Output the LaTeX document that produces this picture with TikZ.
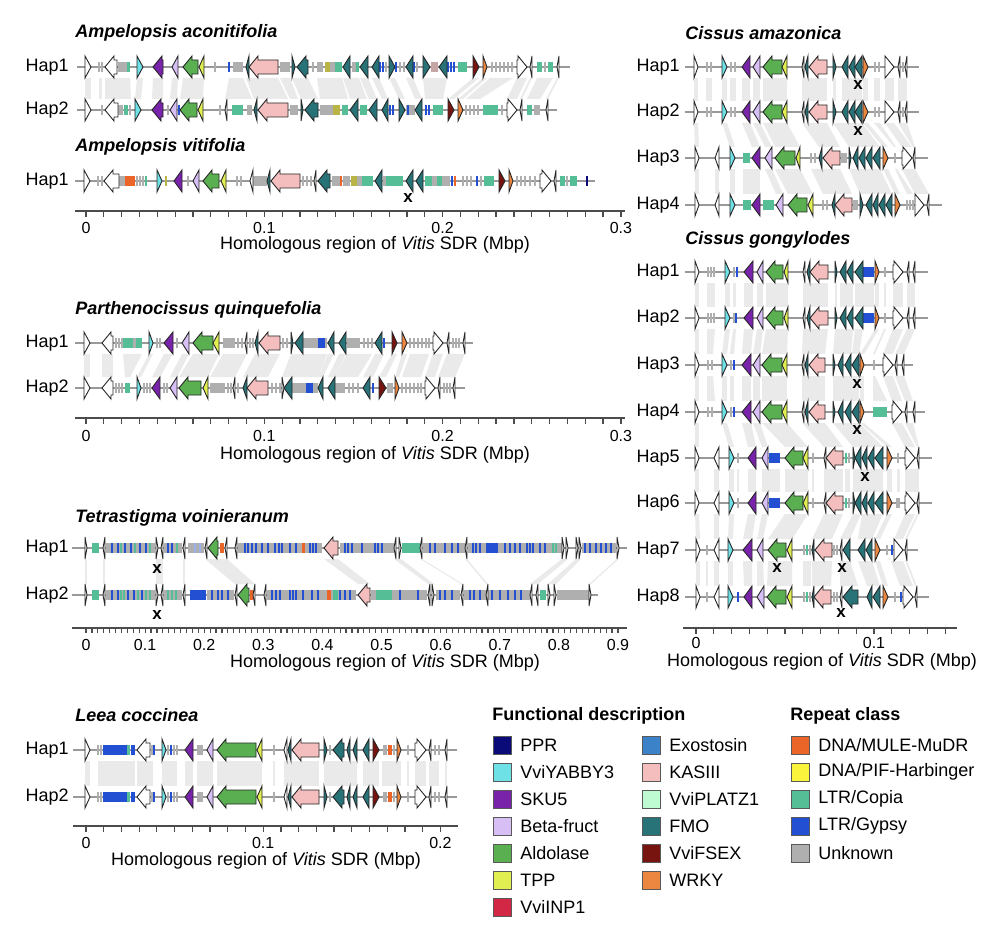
\documentclass[tikz,border=0pt]{standalone}
\usepackage{fontspec}
\setmainfont{Liberation Sans}
\definecolor{cPPR}{RGB}{10,10,120}
\definecolor{cYAB}{RGB}{110,225,230}
\definecolor{cSKU}{RGB}{120,35,170}
\definecolor{cBF}{RGB}{215,190,245}
\definecolor{cALD}{RGB}{90,175,80}
\definecolor{cTPP}{RGB}{225,240,80}
\definecolor{cINP}{RGB}{210,40,70}
\definecolor{cEXO}{RGB}{60,130,200}
\definecolor{cKAS}{RGB}{245,190,190}
\definecolor{cPLA}{RGB}{190,250,210}
\definecolor{cFMO}{RGB}{40,115,120}
\definecolor{cFSEX}{RGB}{120,20,15}
\definecolor{cWRKY}{RGB}{235,135,65}
\definecolor{rMULE}{RGB}{235,100,40}
\definecolor{rPIF}{RGB}{250,245,60}
\definecolor{rCOP}{RGB}{85,190,150}
\definecolor{rGYP}{RGB}{35,80,210}
\definecolor{rUNK}{RGB}{175,175,175}
\definecolor{rOLV}{RGB}{185,180,70}
\definecolor{lkgray}{RGB}{234,234,234}
\tikzset{
 gene/.style={draw=black!85, line width=0.45pt, line join=miter},
 bbl/.style={draw=black!40, line width=0.6pt},
 lkc/.style={fill=lkgray},
 ax/.style={draw=black!70, line width=0.6pt},
 hap/.style={font=\fontsize{9}{10}\selectfont, anchor=east, inner sep=0pt},
 ttl/.style={font=\fontsize{9}{10}\selectfont\bfseries\itshape, anchor=west, inner sep=0pt},
 tick/.style={font=\fontsize{8}{9}\selectfont, inner sep=0pt},
 axt/.style={font=\fontsize{9}{10}\selectfont, inner sep=0pt},
 xm/.style={font=\fontsize{8.5}{9}\selectfont\bfseries, inner sep=0pt},
 lgh/.style={font=\fontsize{9}{10}\selectfont\bfseries, anchor=west, inner sep=0pt},
 lgt/.style={font=\fontsize{9}{10}\selectfont, anchor=west, inner sep=0pt},
 sw/.style={draw=black!65, line width=0.5pt},
}
\newcommand\gR[4]{%
 \pgfmathsetmacro\gHx{max(#1,#2-9)}%
 \filldraw[gene,fill=#4] (#1,#3-7) -- (\gHx,#3-7) -- (\gHx,#3-11) -- (#2,#3) -- (\gHx,#3+11) -- (\gHx,#3+7) -- (#1,#3+7) -- cycle;}
\newcommand\gL[4]{%
 \pgfmathsetmacro\gHx{min(#2,#1+9)}%
 \filldraw[gene,fill=#4] (#2,#3-7) -- (\gHx,#3-7) -- (\gHx,#3-11) -- (#1,#3) -- (\gHx,#3+11) -- (\gHx,#3+7) -- (#2,#3+7) -- cycle;}
\newcommand\rp[4]{\fill[#4] (#1,#3-5) rectangle (#2,#3+5);}
\newcommand\bars[3]{\foreach \bx in {#3}{\fill[#2] (\bx-1,#1-5) rectangle (\bx+1,#1+5);}}
\newcommand\bb[3]{\draw[bbl] (#1,#3) -- (#2,#3);}
\newcommand\lks[3]{\foreach \la/\lb/\lc/\ld in {#3}{\fill[lkc] (\la,#1+11) -- (\lb,#1+11) -- (\ld,#2-11) -- (\lc,#2-11) -- cycle;}}
\newcommand\swatch[5]{\filldraw[sw,fill=#3] (#1-9,#2-9) rectangle (#1+9,#2+9); \node[lgt] (#5) at (#1+18,#2) {#4};}
\newcommand\leeatrack[1]{%
 \bb{73}{457}{#1}
 \bars{#1}{rUNK}{98,101,152,168,174,177,274,330,384,386,394,408,435,439}
 \rp{103}{127}{#1}{rGYP}\rp{127}{130}{#1}{rCOP}\rp{131}{135}{#1}{rGYP}
 \bars{#1}{rGYP}{154,171}
 \rp{197}{203}{#1}{rUNK}\rp{388}{392}{#1}{rMULE}
 \gR{85}{90}{#1}{white}\gL{137}{150}{#1}{white}\gR{162}{166}{#1}{cYAB}
 \gL{185}{193}{#1}{cSKU}\gL{207}{213}{#1}{cBF}\gL{217}{256}{#1}{cALD}\gL{257}{262}{#1}{cTPP}
 \gL{284}{287}{#1}{white}\gL{288}{291}{#1}{cFMO}\gL{292}{319}{#1}{cKAS}\gR{324}{327}{#1}{cFMO}
 \gL{333}{344}{#1}{cFMO}\gL{347}{350}{#1}{cFMO}\gL{353}{357}{#1}{cFMO}\gL{363}{369}{#1}{cFMO}
 \gR{373}{379}{#1}{cFSEX}\gR{397}{401}{#1}{cWRKY}\gR{415}{426}{#1}{white}\gL{429}{431}{#1}{white}\gL{445}{447}{#1}{white}}
\newcommand\cgA[1]{% Cissus gongylodes Hap1/Hap2
 \bb{685}{928}{#1}
 \bars{#1}{rUNK}{708,711,714,734,885}
 \gR{695}{699}{#1}{white}\gR{725}{730}{#1}{cYAB}\gL{744}{753}{#1}{cSKU}\gL{757}{763}{#1}{cBF}
 \gL{766}{783}{#1}{cALD}\gL{784}{788}{#1}{cTPP}\gL{803}{805}{#1}{white}\gL{807}{810}{#1}{cFMO}
 \gL{810}{828}{#1}{cKAS}\gR{835}{837}{#1}{cFMO}\gL{840}{846}{#1}{cFMO}\gL{847}{853}{#1}{cFMO}
 \rp{862}{874}{#1}{rGYP}\gL{855}{863}{#1}{cFMO}\gR{875}{879}{#1}{cWRKY}\gR{893}{903}{#1}{white}
 \gL{907}{909}{#1}{white}\gL{913}{915}{#1}{white}}
\newcommand\cgC[1]{% Cissus gongylodes Hap5/Hap6
 \bb{685}{932}{#1}
 \bars{#1}{rUNK}{738,813,849}
 \bars{#1}{rCOP}{846}
 \gR{695}{699}{#1}{white}\gL{714}{719}{#1}{white}\gR{729}{734}{#1}{cYAB}\gL{748}{756}{#1}{cSKU}
 \gL{762}{768}{#1}{cBF}\rp{769}{780}{#1}{rGYP}\gL{785}{803}{#1}{cALD}\gL{803}{808}{#1}{cTPP}
 \gL{824}{826}{#1}{white}\gL{826}{843}{#1}{cKAS}\gR{853}{855}{#1}{cFMO}\gL{855}{861}{#1}{cFMO}
 \gL{862}{867}{#1}{cFMO}\gL{868}{874}{#1}{cFMO}\gL{875}{883}{#1}{cFMO}\gR{887}{892}{#1}{cWRKY}
 \gR{905}{915}{#1}{white}\gL{917}{919}{#1}{white}}
\begin{document}
\begin{tikzpicture}[x=0.5pt,y=-0.5pt]
\useasboundingbox (0,0) rectangle (1000,935);
\fill[white] (0,0) rectangle (1000,935);
% ================= links =================
\lks{67}{110}{85/91/85/91, 99/102/99/102, 105/130/105/131, 137/143/135/141, 153/163/152/163, 172/178/170/177, 183/204/180/203, 229/243/225/252, 246/278/254/288, 280/290/290/298, 292/308/301/318, 317/342/320/348, 343/359/350/367, 360/368/369/377, 372/379/382/388, 389/395/399/405, 406/413/415/422, 423/447/425/443, 473/479/448/454, 483/487/458/463, 490/513/466/480, 517/527/507/517, 530/532/520/522, 537/553/527/540, 557/559/546/548}
\lks{343}{388}{84/90/84/90, 102/113/102/113, 123/142/125/130, 149/153/137/141, 164/173/152/160, 182/189/170/177, 193/219/179/208, 223/247/210/235, 255/280/243/268, 291/303/282/292, 303/327/292/318, 328/334/318/323, 339/346/328/335, 347/372/335/358, 375/384/363/373, 392/397/379/386, 402/407/395/399, 410/429/402/421, 433/443/425/435, 447/465/438/455}
\lks{548}{595}{85/87/85/87, 103/105/103/105, 156/163/156/163, 183/185/183/185, 205/227/235/255, 324/338/358/370, 394/401/428/434, 420/422/461/463, 465/467/486/488, 562/568/530/538, 576/581/548/556, 617/619/589/591}
\lks{750}{797}{85/90/85/90, 98/135/98/135, 137/153/137/153, 162/177/162/177, 185/193/185/193, 197/213/197/213, 217/262/217/262, 273/275/273/275, 284/319/284/319, 324/357/324/357, 363/379/363/379, 382/401/382/401, 407/409/407/409, 415/426/415/426, 429/439/429/439, 445/447/445/447}
% Cissus amazonica
\lks{67}{112}{694/698/694/698, 706/712/706/712, 722/727/722/727, 730/736/730/736, 742/750/742/750, 753/760/753/760, 763/787/763/787, 802/827/802/827, 833/836/833/836, 842/862/842/862, 863/868/863/868, 874/880/874/880, 885/894/885/894, 898/907/898/907}
\lks{112}{158}{694/698/695/699, 722/727/730/735, 742/750/752/760, 753/760/765/772, 763/787/775/800, 802/827/819/840, 833/862/849/880, 863/868/883/888, 874/880/894/896, 885/894/902/912, 898/907/913/915}
\lks{158}{205}{695/699/695/699, 715/719/715/719, 730/735/730/735, 743/760/743/760, 765/772/776/783, 775/800/788/813, 811/840/823/852, 849/880/860/892, 883/888/895/900, 895/897/907/913, 902/915/915/929}
% Cissus gongylodes
\lks{272}{318}{695/699/695/699, 707/715/707/715, 725/730/725/730, 733/736/733/736, 744/753/744/753, 757/763/757/763, 766/788/766/788, 803/828/803/828, 835/837/835/837, 840/853/840/853, 855/874/855/874, 875/879/875/879, 884/886/884/886, 893/903/893/903, 907/915/907/915}
\lks{318}{365}{695/699/695/699, 707/715/707/713, 725/730/722/727, 733/736/730/734, 744/753/742/751, 757/763/753/760, 766/788/762/787, 803/828/802/825, 835/853/833/851, 855/863/852/859, 875/879/860/864, 884/886/873/875, 893/903/883/893, 907/915/895/904}
\lks{365}{412}{695/699/695/699, 707/713/707/715, 722/727/722/727, 730/734/730/734, 742/751/742/751, 753/760/753/760, 762/787/762/787, 802/825/802/825, 833/859/833/859, 860/864/860/864, 873/875/873/887, 883/893/892/902, 895/904/905/913}
\lks{412}{458}{695/699/695/699, 722/727/729/734, 742/751/748/756, 753/760/762/768, 762/787/785/808, 802/825/824/843, 833/859/853/883, 860/864/887/892, 892/902/905/915, 905/913/917/919}
\lks{458}{503}{695/699/695/699, 714/719/714/719, 729/734/729/734, 737/739/737/739, 748/756/748/756, 762/780/762/780, 785/808/785/808, 812/814/812/814, 824/843/824/843, 845/850/845/850, 853/883/853/883, 887/892/887/892, 897/900/897/900, 905/919/905/919}
\lks{503}{550}{695/699/696/700, 714/719/714/719, 729/734/728/733, 748/756/743/752, 762/768/757/763, 785/808/768/792, 824/843/812/832, 853/861/840/850, 862/883/858/872, 887/892/875/880, 905/915/894/903, 917/919/905/907}
\lks{550}{597}{696/700/696/700, 706/708/706/708, 714/719/714/719, 728/733/728/733, 743/752/744/752, 757/763/757/764, 768/792/767/792, 803/811/803/811, 812/832/812/831, 840/850/840/858, 858/872/867/880, 875/880/883/888, 891/903/900/913, 905/907/915/917}
% ================= Ampelopsis aconitifolia =================
\node[ttl] (tA) at (75,33) {Ampelopsis aconitifolia};
\node[hap] (a1) at (69,67) {Hap1};
\node[hap] (a2) at (69,110) {Hap2};
\bb{77}{570}{67}
\rp{118}{127}{67}{rUNK}\rp{127}{130}{67}{rCOP}\rp{233}{243}{67}{rUNK}\rp{280}{290}{67}{rUNK}
\rp{317}{323}{67}{rUNK}\rp{325}{330}{67}{rOLV}\rp{330}{335}{67}{rUNK}\rp{335}{342}{67}{rCOP}
\rp{352}{356}{67}{rUNK}\rp{356}{359}{67}{rCOP}\rp{431}{438}{67}{cKAS!60!gray}\rp{458}{467}{67}{rCOP}
\rp{537}{542}{67}{rCOP}\rp{548}{553}{67}{rCOP}
\bars{67}{rUNK}{99,102,215,313,386,400,404,417,492,496,500,504,508,512,545}
\bars{67}{rGYP}{229,380,383,396,414,448,451,454}
\gR{85}{91}{67}{white}\gL{105}{117}{67}{white}\gR{137}{143}{67}{cYAB}\gL{153}{163}{67}{cSKU}
\gL{172}{178}{67}{cBF}\gL{183}{198}{67}{cALD}\gL{199}{204}{67}{cTPP}\gL{246}{249}{67}{cFMO}
\gL{249}{278}{67}{cKAS}\gR{292}{295}{67}{cFMO}\gL{297}{308}{67}{cFMO}\gL{343}{350}{67}{cFMO}
\gL{360}{368}{67}{cFMO}\gL{372}{379}{67}{cFMO}\gR{389}{395}{67}{cFMO}\gL{406}{413}{67}{cFMO}
\gR{423}{430}{67}{cFMO}\gL{439}{447}{67}{cFMO}\gR{473}{479}{67}{cFSEX}\gR{483}{487}{67}{cWRKY}
\gR{517}{527}{67}{white}\gL{530}{532}{67}{white}\gL{557}{559}{67}{white}
\bb{77}{557}{110}
\rp{118}{123}{110}{rUNK}\rp{124}{128}{110}{rCOP}\rp{232}{243}{110}{rCOP}\rp{247}{252}{110}{rUNK}
\rp{290}{298}{110}{rUNK}\rp{320}{333}{110}{rUNK}\rp{333}{340}{110}{rOLV}\rp{342}{348}{110}{rCOP}
\rp{360}{367}{110}{rCOP}\rp{406}{415}{110}{rUNK}\rp{433}{443}{110}{rCOP}\rp{483}{498}{110}{rCOP}
\rp{527}{532}{110}{rCOP}\rp{534}{540}{110}{rUNK}
\bars{110}{rUNK}{102,130,168,220,466,470,474,478,502}
\bars{110}{rGYP}{179,390,393,408,426,429}
\gR{85}{91}{110}{white}\gL{105}{118}{110}{white}\gR{135}{141}{110}{cYAB}\gL{152}{163}{110}{cSKU}
\gL{170}{177}{110}{cBF}\gL{180}{197}{110}{cALD}\gL{198}{203}{110}{cTPP}\gL{225}{227}{110}{white}
\gL{254}{257}{110}{cFMO}\gL{258}{288}{110}{cKAS}\gR{301}{303}{110}{cFMO}\gL{305}{318}{110}{cFMO}
\gL{350}{358}{110}{cFMO}\gL{369}{377}{110}{cFMO}\gL{382}{388}{110}{cFMO}\gR{399}{405}{110}{cFMO}
\gL{415}{422}{110}{cFMO}\gR{448}{454}{110}{cFSEX}\gR{458}{463}{110}{cWRKY}\gR{507}{517}{110}{white}
\gL{520}{522}{110}{white}\gL{546}{548}{110}{white}
% ================= Ampelopsis vitifolia =================
\node[ttl] (tB) at (75,147) {Ampelopsis vitifolia};
\node[hap] (b1) at (69,181) {Hap1};
\bb{75}{595}{181}
\rp{119}{125}{181}{rUNK}\rp{125}{135}{181}{rMULE}\rp{253}{267}{181}{rUNK}\rp{332}{340}{181}{rUNK}
\rp{343}{350}{181}{rUNK}\rp{351}{357}{181}{rOLV}\rp{357}{362}{181}{rUNK}\rp{362}{373}{181}{rCOP}
\rp{383}{386}{181}{rUNK}\rp{386}{403}{181}{rCOP}\rp{425}{432}{181}{rCOP}\rp{432}{450}{181}{rUNK}
\rp{437}{442}{181}{rCOP}\rp{484}{494}{181}{rCOP}\rp{560}{565}{181}{rCOP}\rp{570}{577}{181}{rCOP}
\bars{181}{rUNK}{98,102,137,140,143,188,237,241,303,307,311,463,467,471,481,517,521,525,530,535,567}
\bars{181}{rCOP}{146}
\bars{181}{rOLV}{166}
\bars{181}{rMULE}{341,455}
\bars{181}{rGYP}{452,477}
\bars{181}{cPPR}{587}
\gR{84}{90}{181}{white}\gL{104}{119}{181}{white}\gR{157}{162}{181}{cYAB}\gL{174}{182}{181}{cSKU}
\gL{193}{199}{181}{cBF}\gL{203}{219}{181}{cALD}\gL{221}{226}{181}{cTPP}\gL{250}{253}{181}{white}
\gL{267}{270}{181}{cFMO}\gL{271}{300}{181}{cKAS}\gL{314}{316}{181}{white}\gL{318}{330}{181}{cFMO}
\gL{375}{382}{181}{cFMO}\gL{406}{413}{181}{cFMO}\gL{416}{423}{181}{cFMO}\gR{499}{505}{181}{cFSEX}
\gR{509}{513}{181}{cWRKY}\gR{540}{551}{181}{white}\gL{554}{556}{181}{white}
\node[xm] (xb) at (408,198) {x};
% axis A/B
\draw[ax] (75,211) -- (625,211);
\foreach \i in {0,...,30} {\draw[ax] (86+17.83*\i,211) -- ++(0,6);}
\node[tick] (ab0) at (86,228) {0};
\node[tick] (ab1) at (264.3,228) {0.1};
\node[tick] (ab2) at (442.6,228) {0.2};
\node[tick] (ab3) at (620.9,228) {0.3};
\node[axt] (abt) at (375,245) {Homologous region of \textit{Vitis} SDR (Mbp)};
% ================= Parthenocissus =================
\node[ttl] (tC) at (75,310) {Parthenocissus quinquefolia};
\node[hap] (c1) at (69,343) {Hap1};
\node[hap] (c2) at (69,388) {Hap2};
\bb{75}{473}{343}
\rp{123}{133}{343}{rCOP}\rp{133}{136}{343}{rUNK}\rp{136}{142}{343}{rCOP}\rp{223}{235}{343}{rUNK}
\rp{303}{318}{343}{rUNK}\rp{318}{325}{343}{rGYP}\rp{325}{327}{343}{rUNK}\rp{347}{360}{343}{rUNK}
\bars{343}{rUNK}{116,119,122,157,160,177,238,242,250,253,283,287,364,368,372,410,414,418,422,426,429,453,456,459}
\bars{343}{rGYP}{384}
\gR{84}{90}{343}{white}\gL{102}{113}{343}{white}\gR{149}{153}{343}{cYAB}\gL{164}{173}{343}{cSKU}
\gL{182}{189}{343}{cBF}\gL{193}{213}{343}{cALD}\gL{213}{219}{343}{cTPP}\gL{245}{247}{343}{white}
\gL{255}{258}{343}{cFMO}\gL{259}{280}{343}{cKAS}\gR{291}{293}{343}{cFMO}\gL{295}{303}{343}{cFMO}
\gL{328}{334}{343}{cFMO}\gL{339}{346}{343}{cFMO}\gL{375}{382}{343}{cFMO}\gR{392}{397}{343}{cFSEX}
\gR{402}{407}{343}{cWRKY}\gR{433}{443}{343}{white}\gL{447}{449}{343}{white}\gL{463}{465}{343}{white}
\bb{75}{465}{388}
\rp{125}{130}{388}{rCOP}\rp{210}{225}{388}{rUNK}\rp{292}{306}{388}{rUNK}\rp{306}{313}{388}{rGYP}
\rp{313}{318}{388}{rUNK}\rp{335}{345}{388}{rUNK}\rp{387}{393}{388}{rUNK}
\bars{388}{rUNK}{116,119,122,144,147,150,164,167,228,231,238,272,276,280,349,353,358,402,406,410,414,418,421,444,447,450}
\bars{388}{rGYP}{373}
\gR{84}{90}{388}{white}\gL{102}{113}{388}{white}\gR{137}{141}{388}{cYAB}\gL{152}{160}{388}{cSKU}
\gL{170}{177}{388}{cBF}\gL{179}{201}{388}{cALD}\gL{203}{208}{388}{cTPP}\gL{233}{235}{388}{white}
\gL{243}{247}{388}{cFMO}\gL{247}{268}{388}{cKAS}\gR{282}{284}{388}{white}\gL{284}{292}{388}{cFMO}
\gL{318}{323}{388}{cFMO}\gL{328}{335}{388}{cFMO}\gL{363}{370}{388}{cFMO}\gR{379}{386}{388}{cFSEX}
\gR{395}{399}{388}{cWRKY}\gR{425}{435}{388}{white}\gL{438}{440}{388}{white}\gL{453}{455}{388}{white}
\draw[ax] (75,418) -- (625,418);
\foreach \i in {0,...,30} {\draw[ax] (86+17.83*\i,418) -- ++(0,6);}
\node[tick] (c0) at (86,436) {0};
\node[tick] (c1t) at (264.3,436) {0.1};
\node[tick] (c2t) at (442.6,436) {0.2};
\node[tick] (c3t) at (620.9,436) {0.3};
\node[axt] (ct) at (375,455) {Homologous region of \textit{Vitis} SDR (Mbp)};
% ================= Tetrastigma =================
\node[ttl] (tD) at (75,518) {Tetrastigma voinieranum};
\node[hap] (d1) at (69,548) {Hap1};
\node[hap] (d2) at (69,595) {Hap2};
\bb{72}{627}{548}
\rp{92}{99}{548}{rCOP}\rp{106}{155}{548}{rUNK}\rp{164}{182}{548}{rUNK}\rp{188}{204}{548}{rUNK}
\rp{220}{224}{548}{rMULE}\rp{238}{322}{548}{rUNK}\rp{302}{305}{548}{rMULE}\rp{340}{394}{548}{rUNK}
\rp{402}{420}{548}{rCOP}\rp{423}{465}{548}{rUNK}\rp{468}{562}{548}{rUNK}\rp{486}{498}{548}{rGYP}
\rp{582}{616}{548}{rUNK}
\bars{548}{rGYP}{112,118,125,131,140,146,168,172,245,248,252,256,262,268,275,279,282,290,296,310,313,316,345,348,352,362,375,378,382,430,435,445,452,458,473,476,480,505,510,515,520,527,530,533,540,545,585,590,596,601,606,611}
\bars{548}{rCOP}{121,135,150,177,553,556}
\bars{548}{rGYP!45!white}{195,200}
\gR{85}{87}{548}{white}\gL{103}{105}{548}{white}\gR{156}{158}{548}{white}\gL{161}{163}{548}{white}
\gL{183}{185}{548}{white}\gL{205}{207}{548}{white}\gL{208}{218}{548}{cALD}\gL{225}{227}{548}{white}
\gL{235}{237}{548}{white}\gL{324}{338}{548}{cKAS}\gL{394}{396}{548}{white}\gR{399}{401}{548}{white}
\gL{420}{422}{548}{white}\gL{465}{467}{548}{white}\gR{562}{564}{548}{white}\gR{566}{568}{548}{white}
\gR{576}{578}{548}{white}\gR{579}{581}{548}{white}\gR{617}{619}{548}{white}
\node[xm] (xd1) at (157,569) {x};
\bb{72}{598}{595}
\rp{92}{99}{595}{rCOP}\rp{106}{155}{595}{rUNK}\rp{164}{182}{595}{rUNK}\rp{190}{206}{595}{rGYP}
\rp{207}{234}{595}{rUNK}\rp{250}{253}{595}{rMULE}\rp{267}{356}{595}{rUNK}\rp{327}{331}{595}{rMULE}
\rp{333}{338}{595}{rCOP}\rp{371}{427}{595}{rUNK}\rp{376}{392}{595}{rCOP}\rp{436}{460}{595}{rUNK}
\rp{464}{530}{595}{rUNK}\rp{540}{546}{595}{rCOP}\rp{557}{589}{595}{rUNK}
\bars{595}{rGYP}{112,118,128,134,142,212,218,222,228,272,276,280,290,293,296,303,312,318,340,345,350,400,418,440,445,452,470,474,480,492,500,508,515,521}
\bars{595}{rCOP}{121,124,138,146,150,168,172,176}
\gR{85}{87}{595}{white}\gL{103}{105}{595}{white}\gR{156}{158}{595}{white}\gL{161}{163}{595}{white}
\gL{183}{185}{595}{white}\gL{235}{237}{595}{white}\gL{238}{249}{595}{cALD}\gL{253}{255}{595}{white}
\gL{264}{266}{595}{white}\gL{358}{370}{595}{cKAS}\gL{428}{430}{595}{white}\gR{432}{434}{595}{white}
\gL{461}{463}{595}{white}\gL{486}{488}{595}{white}\gL{530}{532}{595}{white}\gL{536}{538}{595}{white}
\gR{548}{550}{595}{white}\gR{554}{556}{595}{white}\gR{589}{591}{595}{white}
\node[xm] (xd2) at (157,615) {x};
\draw[ax] (72,628) -- (627,628);
\foreach \i in {0,...,90} {\draw[ax] (86+5.911*\i,628) -- ++(0,5);}
\foreach \i/\t in {0/0,1/0.1,2/0.2,3/0.3,4/0.4,5/0.5,6/0.6,7/0.7,8/0.8,9/0.9} {\node[tick] (dt\i) at (86+59.11*\i,645) {\t};}
\node[axt] (dtt) at (385,663) {Homologous region of \textit{Vitis} SDR (Mbp)};
% ================= Leea =================
\node[ttl] (tE) at (75,715) {Leea coccinea};
\node[hap] (e1) at (69,750) {Hap1};
\node[hap] (e2) at (69,797) {Hap2};
\leeatrack{750}
\leeatrack{797}
\draw[ax] (73,826) -- (458,826);
\foreach \i in {0,...,20} {\draw[ax] (86+17.72*\i,826) -- ++(0,6);}
\node[tick] (e0) at (86,843) {0};
\node[tick] (e1t) at (263.2,843) {0.1};
\node[tick] (e2t) at (440.4,843) {0.2};
\node[axt] (ett) at (266,861) {Homologous region of \textit{Vitis} SDR (Mbp)};
% ================= Cissus amazonica =================
\node[ttl] (tF) at (685,33) {Cissus amazonica};
\node[hap] (f1) at (680,67) {Hap1};
\node[hap] (f2) at (680,112) {Hap2};
\node[hap] (f3) at (680,158) {Hap3};
\node[hap] (f4) at (680,205) {Hap4};
\foreach \yy in {67,112} {
 \bb{685}{919}{\yy}
 \bars{\yy}{rUNK}{707,711,731,735,875,879,903}
 \gR{694}{698}{\yy}{white}\gR{722}{727}{\yy}{cYAB}\gL{742}{750}{\yy}{cSKU}\gL{753}{760}{\yy}{cBF}
 \gL{763}{782}{\yy}{cALD}\gL{782}{787}{\yy}{cTPP}\gL{802}{804}{\yy}{white}\gL{805}{808}{\yy}{cFMO}
 \gL{809}{827}{\yy}{cKAS}\gR{833}{836}{\yy}{cFMO}\gL{842}{848}{\yy}{cFMO}\gL{849}{855}{\yy}{cFMO}
 \gL{855}{862}{\yy}{cFMO}\gR{863}{868}{\yy}{cWRKY}\gR{885}{894}{\yy}{white}\gL{898}{900}{\yy}{white}
 \gL{905}{907}{\yy}{white}
}
\node[xm] (xf1) at (858,85) {x};
\node[xm] (xf2) at (858,131) {x};
\bb{685}{928}{158}
\rp{743}{750}{158}{rCOP}\rp{841}{847}{158}{rUNK}
\bars{158}{rUNK}{811,815,895}
\gR{695}{699}{158}{white}\gL{715}{719}{158}{white}\gR{730}{735}{158}{cYAB}\gL{752}{760}{158}{cSKU}
\gL{765}{772}{158}{cBF}\gL{775}{795}{158}{cALD}\gL{796}{800}{158}{cTPP}\gL{819}{822}{158}{cFMO}
\gL{823}{840}{158}{cKAS}\gR{849}{851}{158}{cFMO}\gL{853}{858}{158}{cFMO}\gL{859}{865}{158}{cFMO}
\gL{866}{872}{158}{cFMO}\gL{873}{880}{158}{cFMO}\gR{883}{888}{158}{cWRKY}\gR{902}{912}{158}{white}
\gL{913}{915}{158}{white}
\bb{685}{942}{205}
\rp{743}{751}{205}{rCOP}\rp{763}{774}{205}{rCOP}\rp{853}{858}{205}{rUNK}
\bars{205}{rUNK}{823,827,907,910,913}
\gR{695}{699}{205}{white}\gL{715}{719}{205}{white}\gR{730}{735}{205}{cYAB}\gL{752}{760}{205}{cSKU}
\gL{776}{783}{205}{cBF}\gL{788}{807}{205}{cALD}\gL{808}{813}{205}{cTPP}\gL{832}{835}{205}{cFMO}
\gL{835}{852}{205}{cKAS}\gR{860}{863}{205}{cFMO}\gL{866}{872}{205}{cFMO}\gL{873}{878}{205}{cFMO}
\gL{879}{885}{205}{cFMO}\gL{886}{892}{205}{cFMO}\gR{895}{900}{205}{cWRKY}\gR{915}{924}{205}{white}
\gL{927}{929}{205}{white}
% ================= Cissus gongylodes =================
\node[ttl] (tG) at (685,240) {Cissus gongylodes};
\node[hap] (g1) at (680,272) {Hap1};
\node[hap] (g2) at (680,318) {Hap2};
\node[hap] (g3) at (680,365) {Hap3};
\node[hap] (g4) at (680,412) {Hap4};
\node[hap] (g5) at (680,458) {Hap5};
\node[hap] (g6) at (680,503) {Hap6};
\node[hap] (g7) at (680,550) {Hap7};
\node[hap] (g8) at (680,597) {Hap8};
\cgA{272}
\bars{272}{rGYP}{737}
\cgA{318}
\bars{318}{rGYP}{736}
\foreach \yy/\ee in {365/913,412/925} {
 \bb{685}{\ee}{\yy}
 \bars{\yy}{rUNK}{708,712,731,874}
 \bars{\yy}{rGYP}{734}
 \gR{695}{699}{\yy}{white}\gR{722}{727}{\yy}{cYAB}\gL{742}{751}{\yy}{cSKU}\gL{753}{760}{\yy}{cBF}
 \gL{762}{782}{\yy}{cALD}\gL{782}{787}{\yy}{cTPP}\gL{802}{804}{\yy}{white}\gL{805}{808}{\yy}{cFMO}
 \gL{809}{825}{\yy}{cKAS}\gR{833}{835}{\yy}{cFMO}\gL{838}{843}{\yy}{cFMO}\gL{845}{851}{\yy}{cFMO}
 \gL{852}{859}{\yy}{cFMO}\gR{860}{864}{\yy}{cWRKY}
}
\gR{883}{893}{365}{white}\gL{895}{897}{365}{white}\gL{902}{904}{365}{white}
\rp{873}{887}{412}{rCOP}
\gR{892}{902}{412}{white}\gL{905}{907}{412}{white}\gL{913}{915}{412}{white}
\node[xm] (xg3) at (857,384) {x};
\node[xm] (xg4) at (857,430) {x};
\cgC{458}
\cgC{503}
\rp{896}{900}{503}{rUNK}
\bars{458}{rUNK}{898}
\node[xm] (xg5) at (865,477) {x};
\bb{685}{918}{550}
\bars{550}{rUNK}{707,804,810,834,837,887}
\bars{550}{rCOP}{807}
\bars{550}{rGYP}{892}
\gR{696}{700}{550}{white}\gL{714}{719}{550}{white}\gR{728}{733}{550}{cYAB}\gL{743}{752}{550}{cSKU}
\gL{757}{763}{550}{cBF}\gL{768}{786}{550}{cALD}\gL{787}{792}{550}{cTPP}\gL{812}{814}{550}{cFMO}
\gL{815}{832}{550}{cKAS}\gL{840}{842}{550}{white}\gL{843}{850}{550}{cFMO}\gL{858}{865}{550}{cFMO}
\gL{866}{872}{550}{cFMO}\gR{875}{880}{550}{cWRKY}\gR{894}{903}{550}{white}\gL{905}{907}{550}{white}
\node[xm] (xg7a) at (777,568) {x};
\node[xm] (xg7b) at (842,568) {x};
\bb{685}{929}{597}
\bars{597}{rUNK}{707,804,810,834,837,895}
\bars{597}{rCOP}{807}
\bars{597}{rGYP}{738,901}
\gR{696}{700}{597}{white}\gL{714}{719}{597}{white}\gR{728}{733}{597}{cYAB}\gL{744}{752}{597}{cSKU}
\gL{757}{764}{597}{cBF}\gL{767}{786}{597}{cALD}\gL{787}{792}{597}{cTPP}\gL{812}{814}{597}{cFMO}
\gL{814}{831}{597}{cKAS}\gL{840}{842}{597}{white}\gL{843}{858}{597}{cFMO}\gL{867}{872}{597}{cFMO}
\gL{873}{880}{597}{cFMO}\gR{883}{888}{597}{cWRKY}\gR{903}{913}{597}{white}\gL{915}{917}{597}{white}
\node[xm] (xg8) at (841,613) {x};
\draw[ax] (683,628) -- (957,628);
\foreach \i in {0,...,14} {\draw[ax] (696+17.8*\i,628) -- ++(0,6);}
\node[tick] (g0t) at (696,643) {0};
\node[tick] (g1t) at (874,643) {0.1};
\node[axt] (gtt) at (822,662) {Homologous region of \textit{Vitis} SDR (Mbp)};
% ================= Legend =================
\node[lgh] (lh1) at (492,716) {Functional description};
\node[lgh] (lh2) at (790,716) {Repeat class};
\swatch{502}{745}{cPPR}{PPR}{l1}
\swatch{502}{772}{cYAB}{VviYABBY3}{l2}
\swatch{502}{799}{cSKU}{SKU5}{l3}
\swatch{502}{826}{cBF}{Beta-fruct}{l4}
\swatch{502}{853}{cALD}{Aldolase}{l5}
\swatch{502}{880}{cTPP}{TPP}{l6}
\swatch{502}{907}{cINP}{VviINP1}{l7}
\swatch{651}{745}{cEXO}{Exostosin}{l8}
\swatch{651}{772}{cKAS}{KASIII}{l9}
\swatch{651}{799}{cPLA}{VviPLATZ1}{l10}
\swatch{651}{826}{cFMO}{FMO}{l11}
\swatch{651}{853}{cFSEX}{VviFSEX}{l12}
\swatch{651}{880}{cWRKY}{WRKY}{l13}
\swatch{800}{745}{rMULE}{DNA/MULE-MuDR}{l14}
\swatch{800}{772}{rPIF}{DNA/PIF-Harbinger}{l15}
\swatch{800}{799}{rCOP}{LTR/Copia}{l16}
\swatch{800}{826}{rGYP}{LTR/Gypsy}{l17}
\swatch{800}{853}{rUNK}{Unknown}{l18}
\end{tikzpicture}
\end{document}
